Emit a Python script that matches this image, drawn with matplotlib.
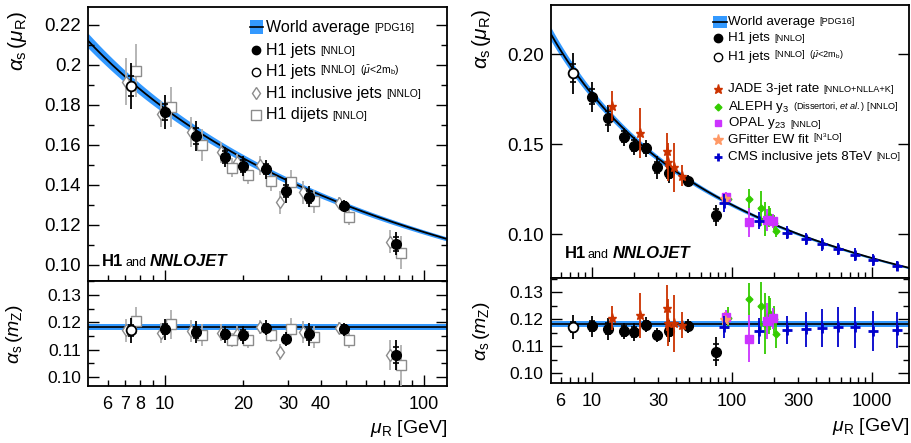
import numpy as np
import matplotlib
matplotlib.use('Agg')
import matplotlib.pyplot as plt
from matplotlib.ticker import LogLocator, FuncFormatter, MultipleLocator, NullFormatter
from matplotlib.patches import Rectangle

plt.rcParams['font.family'] = ['Liberation Sans', 'DejaVu Sans']
plt.rcParams['mathtext.fontset'] = 'custom'
plt.rcParams['mathtext.rm'] = 'Liberation Sans'
plt.rcParams['mathtext.it'] = 'Liberation Sans:italic'
plt.rcParams['mathtext.bf'] = 'Liberation Sans:bold'

# ---------------- data ----------------
WA_VALUE = 0.1181
WA_ERR = 0.0011
MZ = 91.1876

# H1 jets [NNLO] (first point: mu < 2 m_b, open)
h1_mu = [7.37, 10.0, 13.2, 17.1, 20.0, 24.5, 29.3, 35.9, 49.0, 77.8]
h1_as = [0.1895, 0.1765, 0.1645, 0.1542, 0.1493, 0.1478, 0.1372, 0.1342, 0.1297, 0.1107]
h1_err = [0.0114, 0.0083, 0.0075, 0.0050, 0.0050, 0.0046, 0.0063, 0.0054, 0.0030, 0.0058]
h1_in = [0.0050, 0.0040, 0.0040, 0.0030, 0.0030, 0.0025, 0.0030, 0.0030, 0.0018, 0.0035]
h1_mz = [0.1171, 0.1174, 0.1164, 0.1156, 0.1153, 0.1180, 0.1140, 0.1156, 0.1174, 0.1080]
h1_mz_err = [0.0045, 0.0039, 0.0040, 0.0031, 0.0033, 0.0028, 0.0026, 0.0041, 0.0025, 0.0054]
h1_mz_in = [0.0020, 0.0018, 0.0020, 0.0017, 0.0018, 0.0015, 0.0015, 0.0020, 0.0015, 0.0030]

# H1 inclusive jets [NNLO]
inc_mu = [7.07, 9.65, 12.6, 16.4, 19.0, 23.3, 27.9, 34.1, 46.9, 74.0]
inc_as = [0.1917, 0.1755, 0.1665, 0.1563, 0.1513, 0.1498, 0.1313, 0.1363, 0.1312, 0.1117]
inc_err = [0.0117, 0.0067, 0.0075, 0.0054, 0.0040, 0.0046, 0.0058, 0.0058, 0.0030, 0.0058]
inc_mz = [0.1170, 0.1162, 0.1168, 0.1162, 0.1157, 0.1184, 0.1092, 0.1165, 0.1178, 0.1081]
inc_mz_err = [0.0043, 0.0037, 0.0040, 0.0030, 0.0028, 0.0026, 0.0030, 0.0040, 0.0022, 0.0055]

# H1 dijets [NNLO]
dij_mu = [7.71, 10.55, 13.86, 18.1, 21.0, 25.6, 30.7, 37.5, 51.5, 81.5]
dij_as = [0.1972, 0.1792, 0.1600, 0.1487, 0.1450, 0.1422, 0.1413, 0.1318, 0.1240, 0.1062]
dij_err = [0.0133, 0.0100, 0.0080, 0.0046, 0.0046, 0.0050, 0.0063, 0.0058, 0.0038, 0.0083]
dij_mz = [0.1206, 0.1192, 0.1153, 0.1134, 0.1137, 0.1153, 0.1174, 0.1147, 0.1134, 0.1043]
dij_mz_err = [0.0049, 0.0052, 0.0041, 0.0026, 0.0030, 0.0024, 0.0040, 0.0041, 0.0028, 0.0075]

# JADE 3-jet rate
jade_mu = [13.9, 22.1, 34.6, 35.3, 38.7, 43.9]
jade_as = [0.1713, 0.1561, 0.1463, 0.1403, 0.1372, 0.1326]
jade_err = [0.0083, 0.0139, 0.0100, 0.0106, 0.0134, 0.0060]
jade_mz = [0.1203, 0.1215, 0.1240, 0.1187, 0.1184, 0.1178]
jade_mz_err = [0.0044, 0.0083, 0.0085, 0.0086, 0.0104, 0.0049]

# ALEPH y3
aleph_mu = [94.5, 133.6, 161.8, 172.5, 183.5, 189.5, 200.0, 207.0]
aleph_as = [0.1195, 0.1194, 0.1144, 0.1085, 0.1100, 0.1095, 0.1065, 0.1020]
aleph_err = [0.0030, 0.0056, 0.0097, 0.0093, 0.0060, 0.0050, 0.0040, 0.0032]
aleph_mz = [0.1205, 0.1273, 0.1249, 0.1183, 0.1215, 0.1220, 0.1200, 0.1144]
aleph_mz_err = [0.0040, 0.0059, 0.0090, 0.0112, 0.0070, 0.0060, 0.0050, 0.0049]

# OPAL y23
opal_mu = [91.2, 133.6, 179.6, 198.0]
opal_as = [0.1205, 0.1067, 0.1080, 0.1075]
opal_err = [0.0030, 0.0079, 0.0060, 0.0040]
opal_mz = [0.1209, 0.1127, 0.1193, 0.1203]
opal_mz_err = [0.0025, 0.0087, 0.0065, 0.0040]

# GFitter EW fit
gf_mu = [89.0]
gf_as = [0.1196]
gf_err = [0.0030]
gf_mz = [0.1196]
gf_mz_err = [0.0030]

# CMS inclusive jets 8 TeV
cms_mu = [87.7, 157, 249, 338, 440, 572, 763, 1021, 1523]
cms_as = [0.1172, 0.1076, 0.1009, 0.0974, 0.0944, 0.0918, 0.0887, 0.0856, 0.0824]
cms_err = [0.0050, 0.0046, 0.0037, 0.0035, 0.0035, 0.0035, 0.0035, 0.0033, 0.0030]
cms_mz = [0.1170, 0.1157, 0.1160, 0.1162, 0.1166, 0.1170, 0.1170, 0.1157, 0.1160]
cms_mz_err = [0.0040, 0.0047, 0.0052, 0.0064, 0.0070, 0.0074, 0.0075, 0.0074, 0.0068]

# ---------------- styles ----------------
BAND = '#3399ff'
GREY = '#8c8c8c'
GREY_L = '#b0b0b0'
JADE_C = '#cc3300'
ALEPH_C = '#33cc00'
OPAL_C = '#cc33ff'
GF_C = '#ff9966'
CMS_C = '#0000cc'


def run_alpha(a0, mu):
    """2-loop running of alpha_s (nf=5) from mZ."""
    nf = 5
    b0 = (33 - 2 * nf) / (12 * np.pi)
    b1 = (153 - 19 * nf) / (24 * np.pi ** 2)
    mu = np.asarray(mu, dtype=float)
    t = np.log(mu ** 2 / MZ ** 2)
    n = 400
    h = t / n
    a = np.full_like(mu, a0)
    f = lambda x: -b0 * x * x - b1 * x ** 3
    for _ in range(n):
        k1 = f(a)
        k2 = f(a + h * k1 / 2)
        k3 = f(a + h * k2 / 2)
        k4 = f(a + h * k3)
        a = a + h * (k1 + 2 * k2 + 2 * k3 + k4) / 6
    return a


def draw_band(ax_up, ax_lo, xlim):
    mu = np.logspace(np.log10(xlim[0]), np.log10(xlim[1]), 300)
    c = run_alpha(WA_VALUE, mu)
    lo = run_alpha(WA_VALUE - WA_ERR, mu)
    hi = run_alpha(WA_VALUE + WA_ERR, mu)
    ax_up.fill_between(mu, lo, hi, color=BAND, lw=0, zorder=1)
    ax_up.plot(mu, c, color='k', lw=1.3, zorder=2)
    ax_lo.fill_between(mu, WA_VALUE - WA_ERR, WA_VALUE + WA_ERR, color=BAND, lw=0, zorder=1)
    ax_lo.plot(mu, np.full_like(mu, WA_VALUE), color='k', lw=1.2, zorder=2)


def pts(ax, x, y, e, color, marker, ms, mfc=None, ecolor=None, inner=None, z=5, mew=1.0):
    ax.errorbar(x, y, yerr=e, fmt='none', ecolor=ecolor or color, elinewidth=1.3,
                capsize=0, zorder=z)
    ax.plot(x, y, linestyle='none', marker=marker, ms=ms, color=color,
            mfc=mfc if mfc is not None else color, mec=color, mew=mew, zorder=z + 1)
    if inner is not None:
        x = np.asarray(x); y = np.asarray(y); inner = np.asarray(inner)
        ax.plot(np.concatenate([x, x]), np.concatenate([y - inner, y + inner]),
                linestyle='none', marker='_', ms=5, mew=1.2, color=ecolor or color, zorder=z)


def setup(ax_up, ax_lo, xlim, ylim_up, ylim_lo, xlabels, ymaj_up, ymin_up, yfmt_up):
    for ax in (ax_up, ax_lo):
        ax.set_xscale('log')
        ax.set_xlim(*xlim)
        ax.xaxis.set_major_locator(LogLocator(base=10, subs=(1.0,)))
        ax.xaxis.set_minor_locator(LogLocator(base=10, subs=np.arange(2, 10)))
        ax.tick_params(which='both', direction='in', left=True, right=True,
                       bottom=True, top=False, width=1.0)
        ax.tick_params(which='major', length=8)
        ax.tick_params(which='minor', length=4)
        for s in ax.spines.values():
            s.set_linewidth(1.3)
    ax_up.set_ylim(*ylim_up)
    ax_lo.set_ylim(*ylim_lo)
    ax_up.yaxis.set_major_locator(MultipleLocator(ymaj_up))
    if ymin_up:
        ax_up.yaxis.set_minor_locator(MultipleLocator(ymin_up))
    else:
        ax_up.yaxis.set_minor_locator(MultipleLocator(ymaj_up))
    ax_up.yaxis.set_major_formatter(FuncFormatter(yfmt_up))
    ax_lo.yaxis.set_major_locator(MultipleLocator(0.01))
    ax_lo.yaxis.set_minor_locator(MultipleLocator(0.005))
    ax_lo.yaxis.set_major_formatter(FuncFormatter(lambda v, p: '%.2f' % v))
    ax_up.tick_params(axis='x', which='both', labelbottom=False)
    ax_up.tick_params(axis='y', labelsize=13.5, pad=5)
    ax_lo.tick_params(axis='y', labelsize=12.5, pad=5)

    def xf(v, p):
        for l in xlabels:
            if abs(v - l) / l < 1e-6:
                return '%d' % l
        return ''
    ax_lo.xaxis.set_major_formatter(FuncFormatter(xf))
    ax_lo.xaxis.set_minor_formatter(FuncFormatter(xf))
    ax_lo.tick_params(axis='x', which='both', labelsize=13, pad=7)

    ax_up.set_ylabel(r'$\alpha_{\rm s}\,(\mu_{\rm R})$', fontsize=15, loc='top')
    ax_lo.set_ylabel(r'$\alpha_{\rm s}\,(m_{\rm Z})$', fontsize=14)
    ax_lo.set_xlabel(r'$\mu_{\rm R}$ [GeV]', fontsize=14, loc='right', labelpad=4)


def rich(ax, x, y, main, small, fs, sfs):
    t = ax.text(x, y, main, transform=ax.transAxes, fontsize=fs, va='center', ha='left')
    if small:
        ax.annotate(small, xy=(1, 0.12), xycoords=t, xytext=(3, 0),
                    textcoords='offset points', fontsize=sfs, va='bottom', ha='left')
    return t


def logo(ax, x, y):
    t = ax.text(x, y, 'H1', transform=ax.transAxes, fontsize=12, fontweight='bold',
                va='baseline', ha='left')
    a = ax.annotate('and', xy=(1, 0), xycoords=t, xytext=(1, 0), textcoords='offset points',
                    fontsize=9, va='bottom', ha='left')
    ax.annotate('NNLOJET', xy=(1, 0), xycoords=a, xytext=(3, 0), textcoords='offset points',
                fontsize=12, fontweight='bold', fontstyle='italic', va='bottom', ha='left')


def band_key(ax, x0, x1, yc, h):
    ax.add_patch(Rectangle((x0, yc - h / 2), x1 - x0, h, transform=ax.transAxes,
                           color=BAND, lw=0, zorder=10, clip_on=False))
    ax.plot([x0, x1], [yc, yc], color='k', lw=1.2, transform=ax.transAxes, zorder=11)


def key(ax, x, y, marker, color, ms, mfc=None, mew=1.0):
    ax.plot([x], [y], linestyle='none', marker=marker, ms=ms, color=color,
            mfc=mfc if mfc is not None else color, mec=color, mew=mew,
            transform=ax.transAxes, zorder=11, clip_on=False)


fig = plt.figure(figsize=(9.12, 4.43), dpi=100)

# ---------------- left panel ----------------
axL = fig.add_axes([0.0965, 0.3657, 0.3936, 0.6185])
axLl = fig.add_axes([0.0965, 0.1287, 0.3936, 0.2370])
xlimL = (5.04, 123)
setup(axL, axLl, xlimL, (0.092, 0.229), (0.0967, 0.1351), [6, 7, 8, 10, 20, 30, 40, 100],
      0.02, 0.01, lambda v, p: ('%.2f' % v) if abs(v - 0.2) > 1e-9 else '0.2')
axL.yaxis.set_label_coords(-0.165, 0.985)
axLl.yaxis.set_label_coords(-0.175, 0.5)
draw_band(axL, axLl, xlimL)

for ax, ya, ye, ia, ie, da, de, hin in (
        (axL, h1_as, h1_err, inc_as, inc_err, dij_as, dij_err, h1_in),
        (axLl, h1_mz, h1_mz_err, inc_mz, inc_mz_err, dij_mz, dij_mz_err, h1_mz_in)):
    pts(ax, inc_mu, ia, ie, GREY, 'd', 6, mfc='white', ecolor=GREY_L, z=4)
    pts(ax, dij_mu, da, de, GREY, 's', 7, mfc='white', ecolor=GREY_L, z=4)
    pts(ax, h1_mu[1:], ya[1:], ye[1:], 'k', 'o', 7, inner=hin[1:], z=6)
    pts(ax, h1_mu[:1], ya[:1], ye[:1], 'k', 'o', 7, mfc='white', inner=hin[:1], z=6, mew=1.3)

# legend left
FS_L = 11.5
SFS_L = 7.5
ys = [0.927, 0.843, 0.763, 0.686, 0.606]
band_key(axL, 0.451, 0.488, ys[0], 0.048)
key(axL, 0.468, ys[1], 'o', 'k', 6)
key(axL, 0.468, ys[2], 'o', 'k', 6, mfc='white')
key(axL, 0.468, ys[3], 'd', GREY, 6, mfc='white')
key(axL, 0.468, ys[4], 's', GREY, 6.5, mfc='white')
rich(axL, 0.496, ys[0], 'World average', '[PDG16]', FS_L, SFS_L)
rich(axL, 0.496, ys[1], 'H1 jets', '[NNLO]', FS_L, SFS_L)
rich(axL, 0.496, ys[2], 'H1 jets', r'[NNLO]  ($\bar{\mu}$<2m$_{\rm b}$)', FS_L, SFS_L)
rich(axL, 0.496, ys[3], 'H1 inclusive jets', '[NNLO]', FS_L, SFS_L)
rich(axL, 0.496, ys[4], 'H1 dijets', '[NNLO]', FS_L, SFS_L)
logo(axL, 0.04, 0.055)

# ---------------- right panel ----------------
axR = fig.add_axes([0.6038, 0.3718, 0.3929, 0.6170])
axRl = fig.add_axes([0.6038, 0.1348, 0.3929, 0.2370])
xlimR = (5.1, 1850)
setup(axR, axRl, xlimR, (0.0756, 0.2274), (0.0963, 0.1351), [6, 10, 30, 100, 300, 1000],
      0.05, None, lambda v, p: '%.2f' % v)
axR.yaxis.set_label_coords(-0.16, 0.985)
axRl.yaxis.set_label_coords(-0.165, 0.5)
draw_band(axR, axRl, xlimR)

for ax, (ya, ye, yin), jd, al, op, gf, cm in (
        (axR, (h1_as, h1_err, h1_in), (jade_as, jade_err), (aleph_as, aleph_err),
         (opal_as, opal_err), (gf_as, gf_err), (cms_as, cms_err)),
        (axRl, (h1_mz, h1_mz_err, h1_mz_in), (jade_mz, jade_mz_err), (aleph_mz, aleph_mz_err),
         (opal_mz, opal_mz_err), (gf_mz, gf_mz_err), (cms_mz, cms_mz_err))):
    pts(ax, h1_mu[1:], ya[1:], ye[1:], 'k', 'o', 7, inner=yin[1:], z=6)
    pts(ax, h1_mu[:1], ya[:1], ye[:1], 'k', 'o', 7, mfc='white', inner=yin[:1], z=6, mew=1.3)
    pts(ax, jade_mu, jd[0], jd[1], JADE_C, '*', 6.5, z=7)
    pts(ax, aleph_mu, al[0], al[1], ALEPH_C, 'D', 3.5, z=7)
    pts(ax, opal_mu, op[0], op[1], OPAL_C, 's', 5.5, z=8)
    pts(ax, gf_mu, gf[0], gf[1], GF_C, '*', 7, z=8)
    pts(ax, cms_mu, cm[0], cm[1], CMS_C, '+', 7, z=9, mew=2)

ysR = [0.939, 0.878, 0.811, 0.692, 0.628, 0.567, 0.506, 0.445]
band_key(axR, 0.452, 0.491, ysR[0], 0.044)
key(axR, 0.467, ysR[1], 'o', 'k', 6)
key(axR, 0.467, ysR[2], 'o', 'k', 6, mfc='white')
key(axR, 0.467, ysR[3], '*', JADE_C, 6.5)
key(axR, 0.467, ysR[4], 'D', ALEPH_C, 3.5)
key(axR, 0.467, ysR[5], 's', OPAL_C, 5)
key(axR, 0.467, ysR[6], '*', GF_C, 8)
key(axR, 0.467, ysR[7], '+', CMS_C, 6, mew=2)
FS_R = 9.6
SFS_R = 6.6
rich(axR, 0.495, ysR[0], 'World average', '[PDG16]', FS_R, SFS_R)
rich(axR, 0.495, ysR[1], 'H1 jets', '[NNLO]', FS_R, SFS_R)
rich(axR, 0.495, ysR[2], 'H1 jets', r'[NNLO]  ($\bar{\mu}$<2m$_{\rm b}$)', FS_R, SFS_R)
rich(axR, 0.495, ysR[3], 'JADE 3-jet rate', '[NNLO+NLLA+K]', FS_R, SFS_R)
rich(axR, 0.495, ysR[4], r'ALEPH y$_{3}$', r'(Dissertori, $et\ al.$) [NNLO]', FS_R, SFS_R)
rich(axR, 0.495, ysR[5], r'OPAL y$_{23}$', '[NNLO]', FS_R, SFS_R)
rich(axR, 0.495, ysR[6], 'GFitter EW fit', r'[N$^{3}$LO]', FS_R, SFS_R)
rich(axR, 0.495, ysR[7], 'CMS inclusive jets 8TeV', '[NLO]', FS_R, SFS_R)
logo(axR, 0.04, 0.075)

fig.savefig('out.png', dpi=100)
